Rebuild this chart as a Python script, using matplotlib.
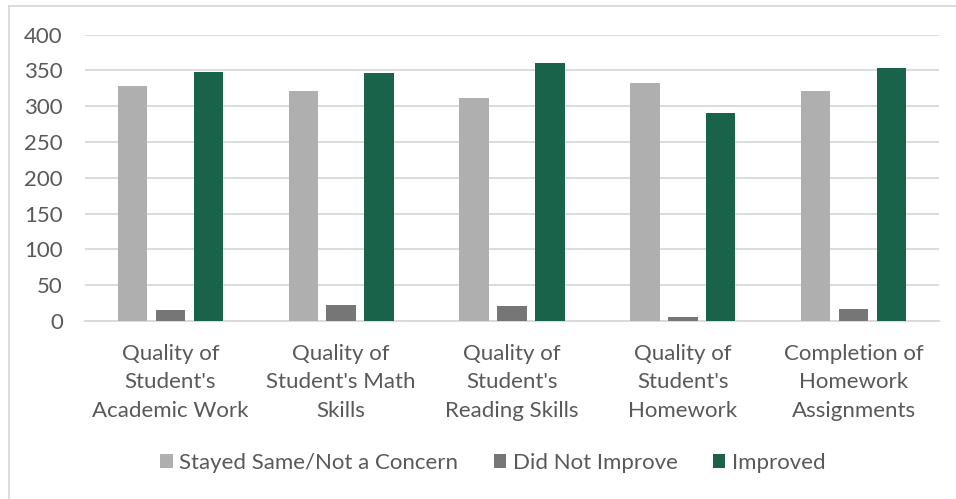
import matplotlib
matplotlib.use("Agg")
import matplotlib.pyplot as plt
from matplotlib.lines import Line2D
import numpy as np

categories = ["Quality of\nStudent's\nAcademic Work",
              "Quality of\nStudent's Math\nSkills",
              "Quality of\nStudent's\nReading Skills",
              "Quality of\nStudent's\nHomework",
              "Completion of\nHomework\nAssignments"]
series_names = ["Stayed Same/Not a Concern", "Did Not Improve", "Improved"]
stayed_same = [328, 322, 312, 332, 322]
did_not_improve = [16, 23, 21, 6, 17]
improved = [348, 346, 360, 290, 353]
yticks = [0, 50, 100, 150, 200, 250, 300, 350, 400]

colors = ["#afafaf", "#767676", "#1a634b"]
text_color = "#595959"
grid_color = "#d9d9d9"

plt.rcParams['font.family'] = ['Lato', 'DejaVu Sans']

fig = plt.figure(figsize=(9.56, 4.99), dpi=100)
ax = fig.add_axes([85/956, 1-321/499, (939-85)/956, (321-34.7)/499])

x = np.arange(len(categories))
offsets = [-0.222, 0.0, 0.222]
width = 0.173
for vals, off, c, name in zip([stayed_same, did_not_improve, improved], offsets, colors, series_names):
    ax.bar(x + off, vals, width=width, color=c, label=name, zorder=3)

ax.set_xlim(-0.5, len(categories) - 0.5)
ax.set_ylim(0, 400)
ax.set_yticks(yticks)
ax.set_yticklabels([str(t) for t in yticks])
ax.set_xticks(x)
ax.set_xticklabels(categories, linespacing=1.53)
ax.grid(axis='y', color=grid_color, linewidth=1.3, zorder=0)
ax.set_axisbelow(True)
for s in ['top', 'right', 'left']:
    ax.spines[s].set_visible(False)
ax.spines['bottom'].set_color(grid_color)
ax.spines['bottom'].set_linewidth(1.3)
ax.tick_params(axis='both', length=0, colors=text_color, labelsize=16)
ax.tick_params(axis='y', pad=16)
ax.tick_params(axis='x', pad=16.5)

leg = fig.legend(loc='center', bbox_to_anchor=(493/956, 1-463/499), ncol=3, frameon=False,
                 fontsize=16, handlelength=0.55, handleheight=0.55, handletextpad=0.3,
                 columnspacing=1.6)
for t in leg.get_texts():
    t.set_color(text_color)

fig.add_artist(Line2D([8.5/956, 1], [1-5.5/499, 1-5.5/499], color=grid_color, linewidth=1.3, transform=fig.transFigure))
fig.add_artist(Line2D([8.5/956, 8.5/956], [0, 1-5.5/499], color=grid_color, linewidth=1.3, transform=fig.transFigure))

fig.savefig("out.png", dpi=100)
